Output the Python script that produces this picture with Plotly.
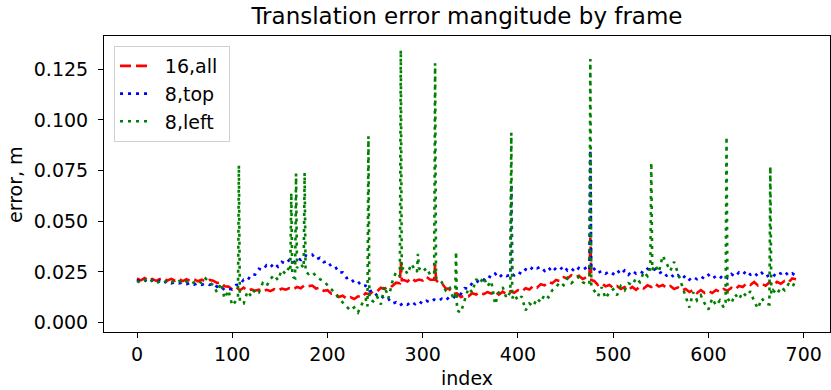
import plotly.graph_objects as go

# frame index grid (every 4th frame)
frame_index = list(range(0, 693, 4))

red_vals = [
    0.0218, 0.0209, 0.0220, 0.0207, 0.0216, 0.0206, 0.0215, 0.0219, 0.0208, 0.0216,
    0.0207, 0.0216, 0.0205, 0.0214, 0.0206, 0.0214, 0.0204, 0.0212, 0.0203, 0.0211,
    0.0207, 0.0196, 0.0198, 0.0180, 0.0178, 0.0163, 0.0175, 0.0160, 0.0173, 0.0158,
    0.0164, 0.0158, 0.0163, 0.0155, 0.0162, 0.0156, 0.0165, 0.0158, 0.0168, 0.0163,
    0.0170, 0.0164, 0.0176, 0.0170, 0.0185, 0.0180, 0.0183, 0.0168, 0.0172, 0.0157,
    0.0160, 0.0143, 0.0145, 0.0127, 0.0133, 0.0119, 0.0126, 0.0117, 0.0130, 0.0125,
    0.0145, 0.0139, 0.0155, 0.0154, 0.0172, 0.0166, 0.0183, 0.0180, 0.0197, 0.0194,
    0.0210, 0.0203, 0.0220, 0.0206, 0.0213, 0.0208, 0.0226, 0.0212, 0.0230, 0.0200,
    0.0195, 0.0170, 0.0165, 0.0142, 0.0145, 0.0127, 0.0133, 0.0130, 0.0145, 0.0139,
    0.0149, 0.0141, 0.0151, 0.0144, 0.0153, 0.0138, 0.0153, 0.0141, 0.0155, 0.0147,
    0.0160, 0.0154, 0.0170, 0.0164, 0.0180, 0.0172, 0.0190, 0.0184, 0.0200, 0.0194,
    0.0211, 0.0205, 0.0224, 0.0218, 0.0234, 0.0224, 0.0232, 0.0216, 0.0224, 0.0204,
    0.0206, 0.0186, 0.0194, 0.0179, 0.0186, 0.0172, 0.0181, 0.0166, 0.0176, 0.0162,
    0.0176, 0.0162, 0.0178, 0.0169, 0.0184, 0.0176, 0.0192, 0.0178, 0.0186, 0.0172,
    0.0181, 0.0166, 0.0174, 0.0159, 0.0166, 0.0151, 0.0161, 0.0146, 0.0161, 0.0147,
    0.0156, 0.0146, 0.0161, 0.0152, 0.0166, 0.0157, 0.0172, 0.0164, 0.0181, 0.0176,
    0.0194, 0.0186, 0.0201, 0.0184, 0.0192, 0.0182, 0.0198, 0.0184, 0.0201, 0.0192,
    0.0206, 0.0199, 0.0218, 0.0214,
]

blue_vals = [
    0.0211, 0.0200, 0.0210, 0.0198, 0.0209, 0.0196, 0.0207, 0.0195, 0.0206, 0.0194,
    0.0200, 0.0194, 0.0198, 0.0190, 0.0197, 0.0188, 0.0195, 0.0187, 0.0194, 0.0186,
    0.0193, 0.0177, 0.0180, 0.0160, 0.0166, 0.0165, 0.0186, 0.0188, 0.0212, 0.0208,
    0.0238, 0.0237, 0.0266, 0.0260, 0.0283, 0.0272, 0.0294, 0.0276, 0.0300, 0.0290,
    0.0310, 0.0292, 0.0318, 0.0310, 0.0333, 0.0327, 0.0336, 0.0312, 0.0320, 0.0298,
    0.0304, 0.0277, 0.0278, 0.0247, 0.0248, 0.0220, 0.0223, 0.0197, 0.0203, 0.0180,
    0.0183, 0.0155, 0.0158, 0.0133, 0.0138, 0.0113, 0.0117, 0.0094, 0.0101, 0.0085,
    0.0098, 0.0089, 0.0104, 0.0091, 0.0106, 0.0093, 0.0108, 0.0099, 0.0114, 0.0106,
    0.0118, 0.0109, 0.0127, 0.0121, 0.0142, 0.0141, 0.0170, 0.0168, 0.0196, 0.0193,
    0.0217, 0.0210, 0.0232, 0.0222, 0.0242, 0.0221, 0.0240, 0.0230, 0.0243, 0.0233,
    0.0250, 0.0240, 0.0263, 0.0254, 0.0278, 0.0268, 0.0276, 0.0255, 0.0273, 0.0250,
    0.0270, 0.0260, 0.0280, 0.0257, 0.0268, 0.0250, 0.0270, 0.0260, 0.0273, 0.0252,
    0.0266, 0.0244, 0.0256, 0.0242, 0.0253, 0.0240, 0.0260, 0.0238, 0.0258, 0.0236,
    0.0256, 0.0242, 0.0253, 0.0244, 0.0266, 0.0254, 0.0263, 0.0242, 0.0253, 0.0232,
    0.0243, 0.0222, 0.0234, 0.0214, 0.0233, 0.0212, 0.0226, 0.0214, 0.0228, 0.0216,
    0.0236, 0.0217, 0.0230, 0.0218, 0.0238, 0.0220, 0.0240, 0.0227, 0.0248, 0.0237,
    0.0256, 0.0237, 0.0248, 0.0228, 0.0246, 0.0224, 0.0236, 0.0227, 0.0250, 0.0242,
    0.0253, 0.0232, 0.0243, 0.0230,
]

green_vals = [
    0.0205, 0.0196, 0.0212, 0.0199, 0.0208, 0.0194, 0.0204, 0.0210, 0.0197, 0.0205,
    0.0195, 0.0205, 0.0193, 0.0203, 0.0191, 0.0201, 0.0207, 0.0194, 0.0218, 0.0200,
    0.0185, 0.0150, 0.0195, 0.0120, 0.0160, 0.0085, 0.0110, 0.0140, 0.0095, 0.0155,
    0.0130, 0.0165, 0.0150, 0.0195, 0.0180, 0.0215, 0.0235, 0.0210, 0.0260, 0.0240,
    0.0275, 0.0225, 0.0265, 0.0290, 0.0255, 0.0240, 0.0250, 0.0230, 0.0215, 0.0205,
    0.0185, 0.0170, 0.0145, 0.0120, 0.0100, 0.0085, 0.0060, 0.0075, 0.0050, 0.0090,
    0.0120, 0.0150, 0.0105, 0.0130, 0.0090, 0.0180, 0.0120, 0.0200, 0.0250, 0.0230,
    0.0275, 0.0240, 0.0290, 0.0260, 0.0285, 0.0250, 0.0270, 0.0235, 0.0250, 0.0220,
    0.0200, 0.0160, 0.0180, 0.0120, 0.0160, 0.0050, 0.0110, 0.0170, 0.0150, 0.0215,
    0.0195, 0.0225, 0.0180, 0.0205, 0.0090, 0.0150, 0.0175, 0.0120, 0.0165, 0.0140,
    0.0110, 0.0130, 0.0060, 0.0095, 0.0080, 0.0120, 0.0100, 0.0140, 0.0125, 0.0160,
    0.0175, 0.0200, 0.0185, 0.0220, 0.0195, 0.0210, 0.0225, 0.0200, 0.0190, 0.0175,
    0.0160, 0.0130, 0.0175, 0.0120, 0.0150, 0.0165, 0.0135, 0.0180, 0.0160, 0.0195,
    0.0185, 0.0220, 0.0200, 0.0250, 0.0230, 0.0270, 0.0285, 0.0250, 0.0330, 0.0290,
    0.0255, 0.0300, 0.0240, 0.0180, 0.0130, 0.0075, 0.0150, 0.0110, 0.0135, 0.0095,
    0.0065, 0.0120, 0.0085, 0.0110, 0.0075, 0.0120, 0.0095, 0.0140, 0.0115, 0.0150,
    0.0130, 0.0155, 0.0105, 0.0070, 0.0120, 0.0095, 0.0145, 0.0160, 0.0140, 0.0175,
    0.0160, 0.0190, 0.0175, 0.0210,
]

# single-frame spikes, with the frames just before/after them
red_spike_idx = [276, 277, 278, 312, 313, 314, 475, 476, 477]
red_spike_val = [0.0194, 0.0300, 0.0210, 0.0212, 0.0290, 0.0210, 0.0220, 0.0420, 0.0210]
blue_spike_idx = [392, 393, 394, 475, 476, 477]
blue_spike_val = [0.0235, 0.0680, 0.0240, 0.0260, 0.0850, 0.0260]
green_spike_idx = [106, 107, 108, 161, 162, 163, 166, 167, 168, 175, 176, 177,
                   242, 243, 244, 276, 277, 278, 294, 295, 296, 312, 313, 314,
                   334, 335, 336, 392, 393, 394, 475, 476, 477, 539, 540, 541,
                   618, 619, 620, 664, 665, 666]
green_spike_val = [0.0120, 0.0776, 0.0100, 0.0260, 0.0640, 0.0240, 0.0220, 0.0736, 0.0270,
                   0.0270, 0.0740, 0.0250, 0.0080, 0.0920, 0.0120, 0.0230, 0.1345, 0.0260,
                   0.0250, 0.0340, 0.0270, 0.0240, 0.1280, 0.0220, 0.0120, 0.0350, 0.0060,
                   0.0150, 0.0937, 0.0120, 0.0190, 0.1300, 0.0180, 0.0270, 0.0790, 0.0260,
                   0.0100, 0.0917, 0.0120, 0.0090, 0.0770, 0.0140]

series_names = ["16,all", "8,top", "8,left"]
x_ticks = [0, 100, 200, 300, 400, 500, 600, 700]
y_ticks = [0.000, 0.025, 0.050, 0.075, 0.100, 0.125]
y_tick_text = ["0.000", "0.025", "0.050", "0.075", "0.100", "0.125"]


def merge(idx, vals, s_idx, s_vals):
    d = dict(zip(idx, vals))
    d.update(dict(zip(s_idx, s_vals)))
    keys = sorted(d)
    return keys, [d[k] for k in keys]


def legend_label(s):
    # small invisible padding so the legend box matches the reference's spacing
    return "\u00a0\u2009" + s + "\u00a0"


rx, ry = merge(frame_index, red_vals, red_spike_idx, red_spike_val)
bx, by = merge(frame_index, blue_vals, blue_spike_idx, blue_spike_val)
gx, gy = merge(frame_index, green_vals, green_spike_idx, green_spike_val)

FONT = "DejaVu Sans"
FS = 19
LW = 2.6
DOT = "3px,5px"
W, H = 831, 390
ML, MR, MT, MB = 104, 1.3, 36, 58
PW, PH = W - ML - MR, H - MT - MB

fig = go.Figure()
fig.add_trace(go.Scatter(x=rx, y=ry, mode="lines", name=legend_label(series_names[0]),
                         line=dict(color="rgb(255,0,0)", width=LW, dash="11px,5px")))
fig.add_trace(go.Scatter(x=bx, y=by, mode="lines", name=legend_label(series_names[1]),
                         line=dict(color="rgb(0,0,255)", width=LW, dash=DOT)))
fig.add_trace(go.Scatter(x=gx, y=gy, mode="lines", name=legend_label(series_names[2]),
                         line=dict(color="rgb(0,128,0)", width=LW, dash=DOT)))

fig.update_layout(
    width=W, height=H,
    margin=dict(l=ML, r=MR, t=MT, b=MB, autoexpand=False),
    paper_bgcolor="white", plot_bgcolor="white",
    font=dict(family=FONT, size=FS, color="black"),
    title=dict(text="Translation error mangitude by frame", x=0.5, xref="paper",
               xanchor="center", y=1 - 16 / H, yref="container", yanchor="middle",
               font=dict(family=FONT, size=23, color="black")),
    showlegend=True,
    legend=dict(x=0.0138, y=0.966, xanchor="left", yanchor="top",
                bgcolor="rgba(255,255,255,0.8)", bordercolor="#d0d0d0", borderwidth=1,
                font=dict(family=FONT, size=FS, color="black"),
                tracegroupgap=0),
    xaxis=dict(range=[-34.65, 727.65], tickmode="array", tickvals=x_ticks,
               showgrid=False, zeroline=False, showline=True, linecolor="black",
               linewidth=1, mirror=True, ticks="outside", ticklen=5, tickcolor="black",
               tickfont=dict(family=FONT, size=FS)),
    yaxis=dict(range=[-0.0046, 0.1414], tickmode="array", tickvals=y_ticks,
               ticktext=y_tick_text, ticklabelstandoff=6,
               showgrid=False, zeroline=False, showline=True, linecolor="black",
               linewidth=1, mirror=True, ticks="outside", ticklen=5, tickcolor="black",
               tickfont=dict(family=FONT, size=FS)),
    annotations=[
        dict(text="index", xref="paper", yref="paper", x=0.5,
             y=-(378 - (H - MB)) / PH, xanchor="center", yanchor="middle",
             showarrow=False, font=dict(family=FONT, size=FS, color="black")),
        dict(text="error, m", xref="paper", yref="paper", x=-(ML - 15) / PW,
             y=0.5, xanchor="center", yanchor="middle", textangle=-90,
             showarrow=False, font=dict(family=FONT, size=FS, color="black")),
    ],
)

fig.write_html(
    "out.html",
    config={"displayModeBar": False},
    post_script="document.body.style.margin='0';document.body.style.overflow='hidden';",
)
